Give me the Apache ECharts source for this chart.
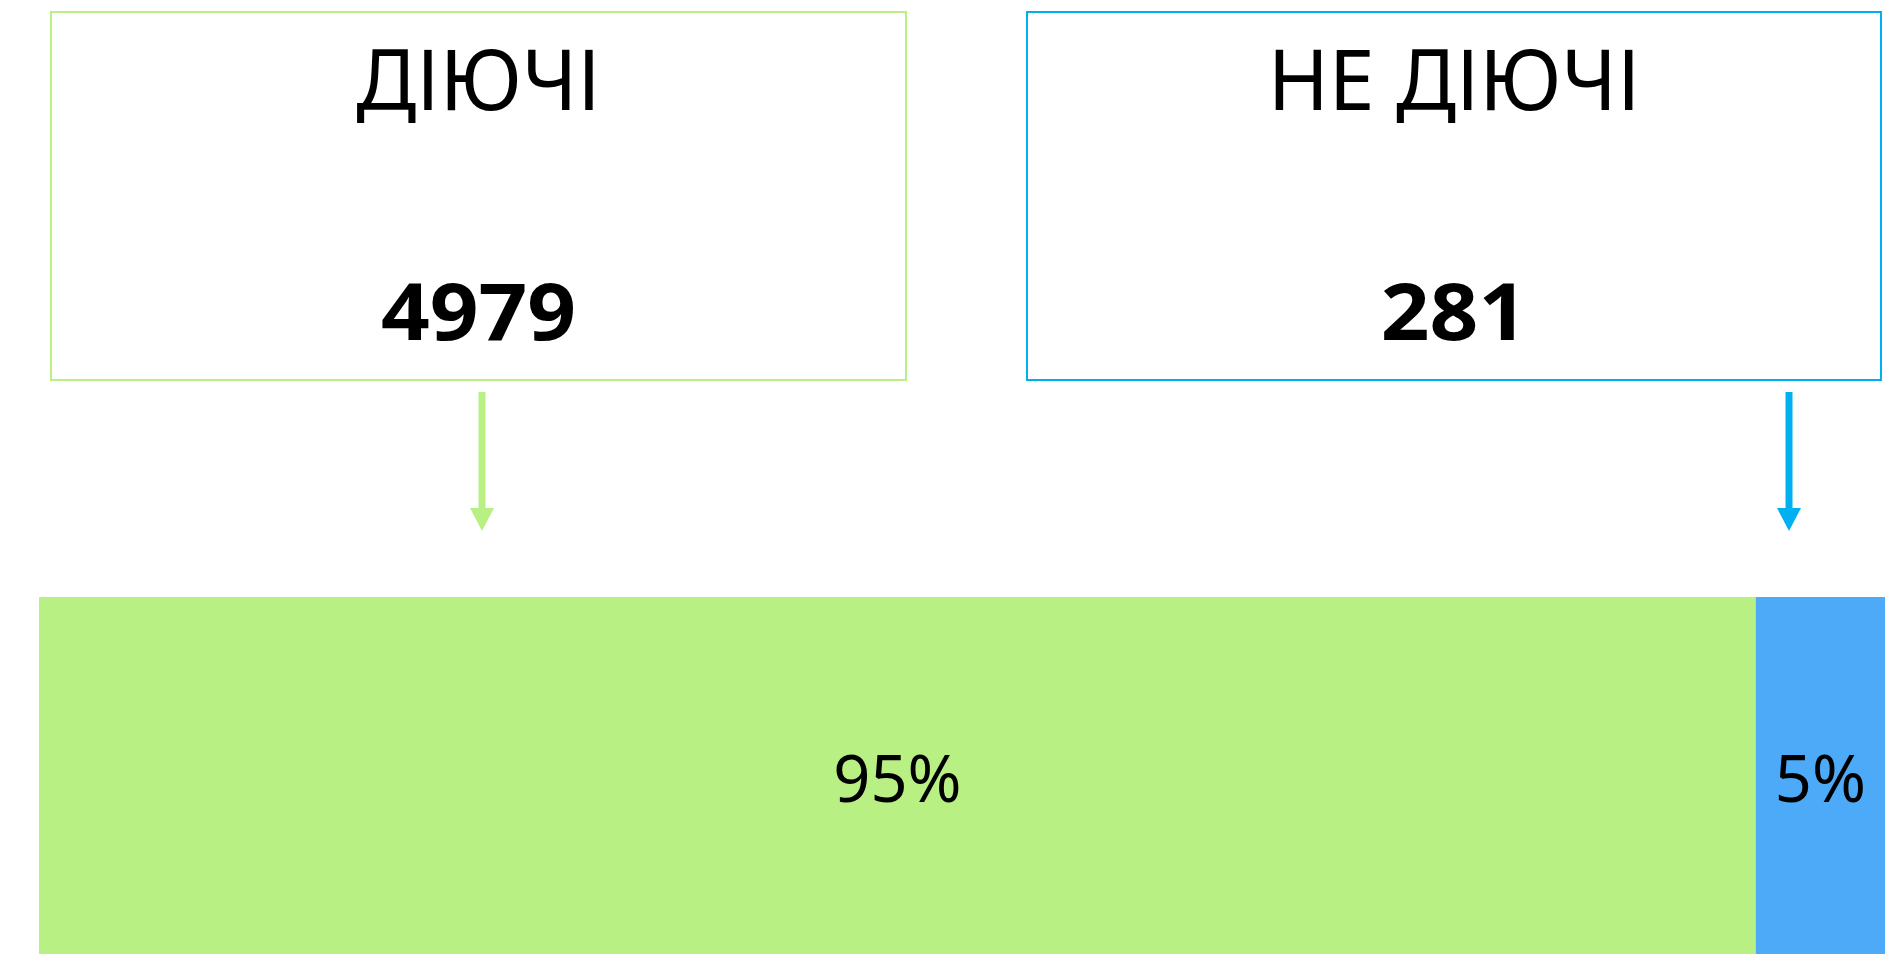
<!DOCTYPE html>
<html>
<head>
<meta charset="utf-8">
<title>Діючі / не діючі</title>
<script src="https://cdn.jsdelivr.net/npm/echarts@6/dist/echarts.min.js"></script>
<style>
  html, body { margin: 0; padding: 0; background: #fff; }
  #chart { width: 1902px; height: 954px; }
</style>
</head>
<body>
<div id="chart"></div>
<script>
// data
const categories = ["ДІЮЧІ", "НЕ ДІЮЧІ"];
const counts = [4979, 281];
const shareLabels = ["95%", "5%"];
// segment widths as drawn in the bar (share of the full bar)
const barShares = [93, 7];

const FONT = "'Noto Sans', 'Open Sans', sans-serif";
const barColors = ["#b8f084", "#4daaf9"];
const frameColors = ["#b8f084", "#00b0f0"];

// box frames above the bar, one per category
const boxes = [
  { x: 51, y: 12, w: 855, h: 368, arrowX: 482 },
  { x: 1027, y: 12, w: 854, h: 368, arrowX: 1789 },
];

function boxGraphics(i) {
  const b = boxes[i];
  const cx = b.x + b.w / 2;
  const color = frameColors[i];
  return [
    {
      type: "rect",
      shape: { x: b.x, y: b.y, width: b.w, height: b.h },
      style: { fill: null, stroke: color, lineWidth: 2 },
    },
    {
      type: "text",
      x: cx,
      y: 86,
      scaleX: 0.98,
      style: {
        text: categories[i],
        font: `normal 84px ${FONT}`,
        fill: "#000",
        align: "center",
        verticalAlign: "middle",
      },
    },
    {
      type: "text",
      x: cx,
      y: 317,
      scaleX: 1.08,
      style: {
        text: String(counts[i]),
        font: `bold 79px ${FONT}`,
        fill: "#000",
        align: "center",
        verticalAlign: "middle",
      },
    },
    {
      type: "line",
      shape: { x1: b.arrowX, y1: 392, x2: b.arrowX, y2: 512 },
      style: { stroke: color, lineWidth: 7 },
    },
    {
      type: "polygon",
      shape: {
        points: [
          [b.arrowX - 12, 508],
          [b.arrowX + 12, 508],
          [b.arrowX, 531],
        ],
      },
      style: { fill: color },
    },
  ];
}

const chart = echarts.init(document.getElementById("chart"), null, { renderer: "canvas" });

chart.setOption({
  animation: false,
  backgroundColor: "#fff",
  grid: { left: 39, right: 17, top: 597, bottom: -4, containLabel: false },
  xAxis: { type: "value", min: 0, max: 100, show: false },
  yAxis: { type: "category", data: ["all"], show: false },
  series: barShares.map((share, i) => ({
    name: categories[i],
    type: "bar",
    stack: "total",
    barWidth: "100%",
    data: [share],
    itemStyle: { color: barColors[i] },
    label: {
      show: true,
      position: "inside",
      offset: [0, 8],
      formatter: () => shareLabels[i],
      fontFamily: FONT,
      fontSize: 65,
      color: "#000",
    },
  })),
  graphic: [...boxGraphics(0), ...boxGraphics(1)],
});
</script>
</body>
</html>
